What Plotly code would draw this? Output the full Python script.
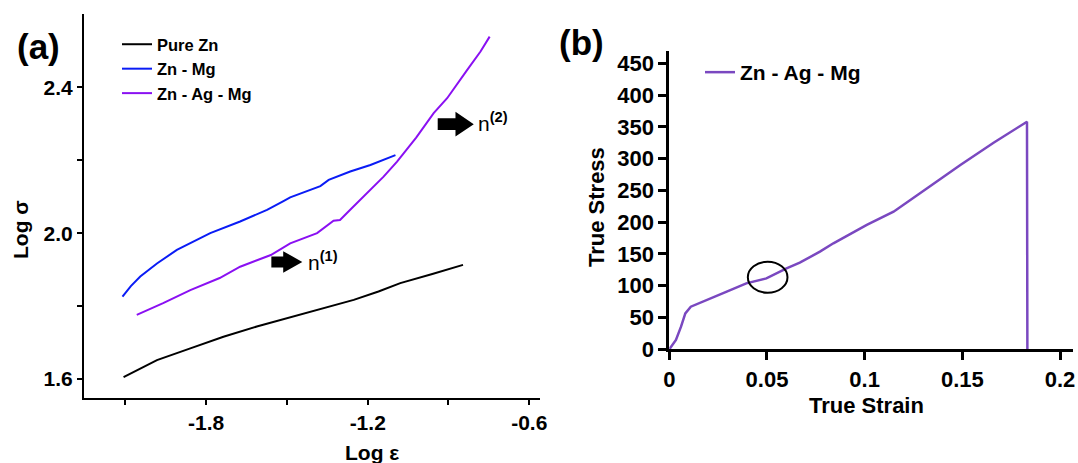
import plotly.graph_objects as go

# ---------------- Panel (a): log-log flow curves ----------------
pure_zn_x = [-2.107, -2.064, -1.983, -1.859, -1.736, -1.612, -1.488, -1.37, -1.252, -1.16, -1.079, -0.96, -0.846]
pure_zn_y = [1.605, 1.622, 1.652, 1.684, 1.716, 1.744, 1.769, 1.793, 1.817, 1.840, 1.863, 1.888, 1.913]

zn_mg_x = [-2.111, -2.08, -2.045, -1.983, -1.909, -1.835, -1.785, -1.674, -1.574, -1.513, -1.488, -1.376, -1.345, -1.265, -1.190, -1.097]
zn_mg_y = [1.826, 1.855, 1.881, 1.917, 1.954, 1.981, 2.000, 2.032, 2.064, 2.088, 2.098, 2.129, 2.146, 2.169, 2.187, 2.214]

zn_ag_mg_x = [-2.058, -1.96, -1.859, -1.750, -1.674, -1.560, -1.488, -1.388, -1.327, -1.303, -1.265, -1.215, -1.141,
              -1.091, -1.020, -0.955, -0.905, -0.831, -0.781, -0.747]
zn_ag_mg_y = [1.776, 1.808, 1.844, 1.877, 1.908, 1.940, 1.972, 2.000, 2.034, 2.036, 2.064, 2.100, 2.155,
              2.196, 2.262, 2.329, 2.370, 2.447, 2.498, 2.539]

a_xticks = [-1.8, -1.2, -0.6]
a_xticktext = ["-1.8", "-1.2", "-0.6"]
a_xminor = [-2.1, -1.5, -0.9]
a_yticks = [1.6, 2.0, 2.4]
a_yticktext = ["1.6", "2.0", "2.4"]
a_yminor = [1.8, 2.2]

# ---------------- Panel (b): true stress-strain ----------------
strain = [0.0, 0.0034, 0.006, 0.0082, 0.011, 0.0206, 0.0291, 0.0394, 0.0497, 0.060, 0.0668, 0.0771, 0.084,
          0.1011, 0.1148, 0.132, 0.149, 0.166, 0.1831, 0.1833]
stress = [0.0, 14.6, 35.6, 56.6, 67.0, 80.0, 90.5, 103.8, 111.6, 127.4, 136.3, 153.6, 166.8,
          195.6, 216.5, 253.3, 290.0, 325.0, 358.1, 0.0]

b_xticks = [0, 0.05, 0.1, 0.15, 0.2]
b_yticks = [0, 50, 100, 150, 200, 250, 300, 350, 400, 450]

FONT = "Arial, 'Liberation Sans', sans-serif"
BLACK = "#000000"
BLUE = "#0a1cf5"
VIOLET = "#8a10f2"
PURPLE_B = "#7a48c0"

fig = go.Figure()

fig.add_trace(go.Scatter(x=pure_zn_x, y=pure_zn_y, mode="lines", name="<b>Pure Zn</b>",
                         line=dict(color=BLACK, width=2), xaxis="x", yaxis="y", legend="legend"))
fig.add_trace(go.Scatter(x=zn_mg_x, y=zn_mg_y, mode="lines", name="<b>Zn - Mg</b>",
                         line=dict(color=BLUE, width=2), xaxis="x", yaxis="y", legend="legend"))
fig.add_trace(go.Scatter(x=zn_ag_mg_x, y=zn_ag_mg_y, mode="lines", name="<b>Zn - Ag - Mg</b>",
                         line=dict(color=VIOLET, width=2), xaxis="x", yaxis="y", legend="legend"))

fig.add_trace(go.Scatter(x=strain, y=stress, mode="lines", name="<b>Zn - Ag - Mg</b>",
                         line=dict(color=PURPLE_B, width=2.5), xaxis="x2", yaxis="y2", legend="legend2"))

W, H = 1078, 463


def px(xp):
    return xp / W


def py(yp):
    return 1 - yp / H


axis_common = dict(showline=True, linecolor=BLACK, showgrid=False, zeroline=False,
                   ticks="outside", tickcolor=BLACK, automargin=False)

fig.update_layout(
    template="none",
    width=W, height=H,
    margin=dict(l=0, r=0, t=0, b=0),
    paper_bgcolor="white", plot_bgcolor="white",
    font=dict(family=FONT, color=BLACK),
    xaxis=dict(**axis_common, domain=[px(84), px(540)], anchor="y",
               range=[-2.254, -0.56], linewidth=2, tickwidth=2, ticklen=5,
               tickmode="array", tickvals=a_xticks, ticktext=a_xticktext,
               minor=dict(tickmode="array", tickvals=a_xminor, ticks="outside", ticklen=5, tickwidth=2, tickcolor=BLACK),
               tickfont=dict(size=21, family=FONT, weight="bold")),
    yaxis=dict(**axis_common, domain=[py(398), py(14)], anchor="x",
               range=[1.548, 2.601], linewidth=2, tickwidth=2, ticklen=5,
               tickmode="array", tickvals=a_yticks, ticktext=a_yticktext,
               minor=dict(tickmode="array", tickvals=a_yminor, ticks="outside", ticklen=5, tickwidth=2, tickcolor=BLACK),
               tickfont=dict(size=21, family=FONT, weight="bold")),
    xaxis2=dict(**axis_common, domain=[px(669.3), px(1072.7)], anchor="y2",
                range=[0, 0.2065], linewidth=3, tickwidth=3, ticklen=8,
                tickmode="array", tickvals=b_xticks,
                tickfont=dict(size=22, family=FONT, weight="bold")),
    yaxis2=dict(**axis_common, domain=[py(349.3), py(50.7)], anchor="x2",
                range=[0, 469.8], linewidth=3, tickwidth=3, ticklen=8,
                tickmode="array", tickvals=b_yticks,
                tickfont=dict(size=22, family=FONT, weight="bold")),
    legend=dict(x=px(117), y=py(27), xanchor="left", yanchor="top", bgcolor="rgba(0,0,0,0)",
                font=dict(size=16.5, family=FONT, color=BLACK), tracegroupgap=0, itemwidth=30),
    legend2=dict(x=px(700), y=py(52), xanchor="left", yanchor="top", bgcolor="rgba(0,0,0,0)",
                 font=dict(size=21, family=FONT, color=BLACK), itemwidth=30),
    showlegend=True,
)

annotations = [
    dict(text="<b>(a)</b>", x=px(38.5), y=py(46), xref="paper", yref="paper", showarrow=False,
         font=dict(size=35, family=FONT), xanchor="center", yanchor="middle"),
    dict(text="<b>(b)</b>", x=px(581), y=py(43), xref="paper", yref="paper", showarrow=False,
         font=dict(size=35, family=FONT), xanchor="center", yanchor="middle"),
    dict(text="<b>Log σ</b>", x=px(20), y=py(230), xref="paper", yref="paper", showarrow=False,
         textangle=-90, font=dict(size=21, family=FONT), xanchor="center", yanchor="middle"),
    dict(text="<b>Log ε</b>", x=px(372), y=py(452), xref="paper", yref="paper", showarrow=False,
         font=dict(size=21, family=FONT), xanchor="center", yanchor="middle"),
    dict(text="<b>True Stress</b>", x=px(596), y=py(207), xref="paper", yref="paper", showarrow=False,
         textangle=-90, font=dict(size=22, family=FONT), xanchor="center", yanchor="middle"),
    dict(text="<b>True Strain</b>", x=px(866.7), y=py(405), xref="paper", yref="paper", showarrow=False,
         font=dict(size=22, family=FONT), xanchor="center", yanchor="middle"),
    dict(text="n<sup><b>(1)</b></sup>", x=-1.43, y=1.925, xref="x", yref="y", showarrow=False,
         font=dict(size=21, family=FONT), xanchor="left", yanchor="middle"),
    dict(text="n<sup><b>(2)</b></sup>", x=-0.797, y=2.305, xref="x", yref="y", showarrow=False,
         font=dict(size=21, family=FONT), xanchor="left", yanchor="middle"),
]
fig.update_layout(annotations=annotations)


def block_arrow(x0, xh, x1, yc, hs, hh):
    return (f"M {x0},{yc-hs} L {xh},{yc-hs} L {xh},{yc-hh} L {x1},{yc} L {xh},{yc+hh} "
            f"L {xh},{yc+hs} L {x0},{yc+hs} Z")


shapes = [
    dict(type="path", xref="x", yref="y", path=block_arrow(-1.558, -1.514, -1.443, 1.921, 0.0151, 0.0297),
         fillcolor=BLACK, line=dict(width=0)),
    dict(type="path", xref="x", yref="y", path=block_arrow(-0.940, -0.874, -0.806, 2.299, 0.016, 0.034),
         fillcolor=BLACK, line=dict(width=0)),
    dict(type="circle", xref="x2", yref="y2", x0=0.0402, x1=0.0605, y0=89, y1=137.8,
         line=dict(color=BLACK, width=2)),
]
fig.update_layout(shapes=shapes)

fig.write_html("out.html", config={"displayModeBar": False},
               post_script="document.body.style.margin='0';document.body.style.padding='0';"
                           "document.body.style.overflow='hidden';")
